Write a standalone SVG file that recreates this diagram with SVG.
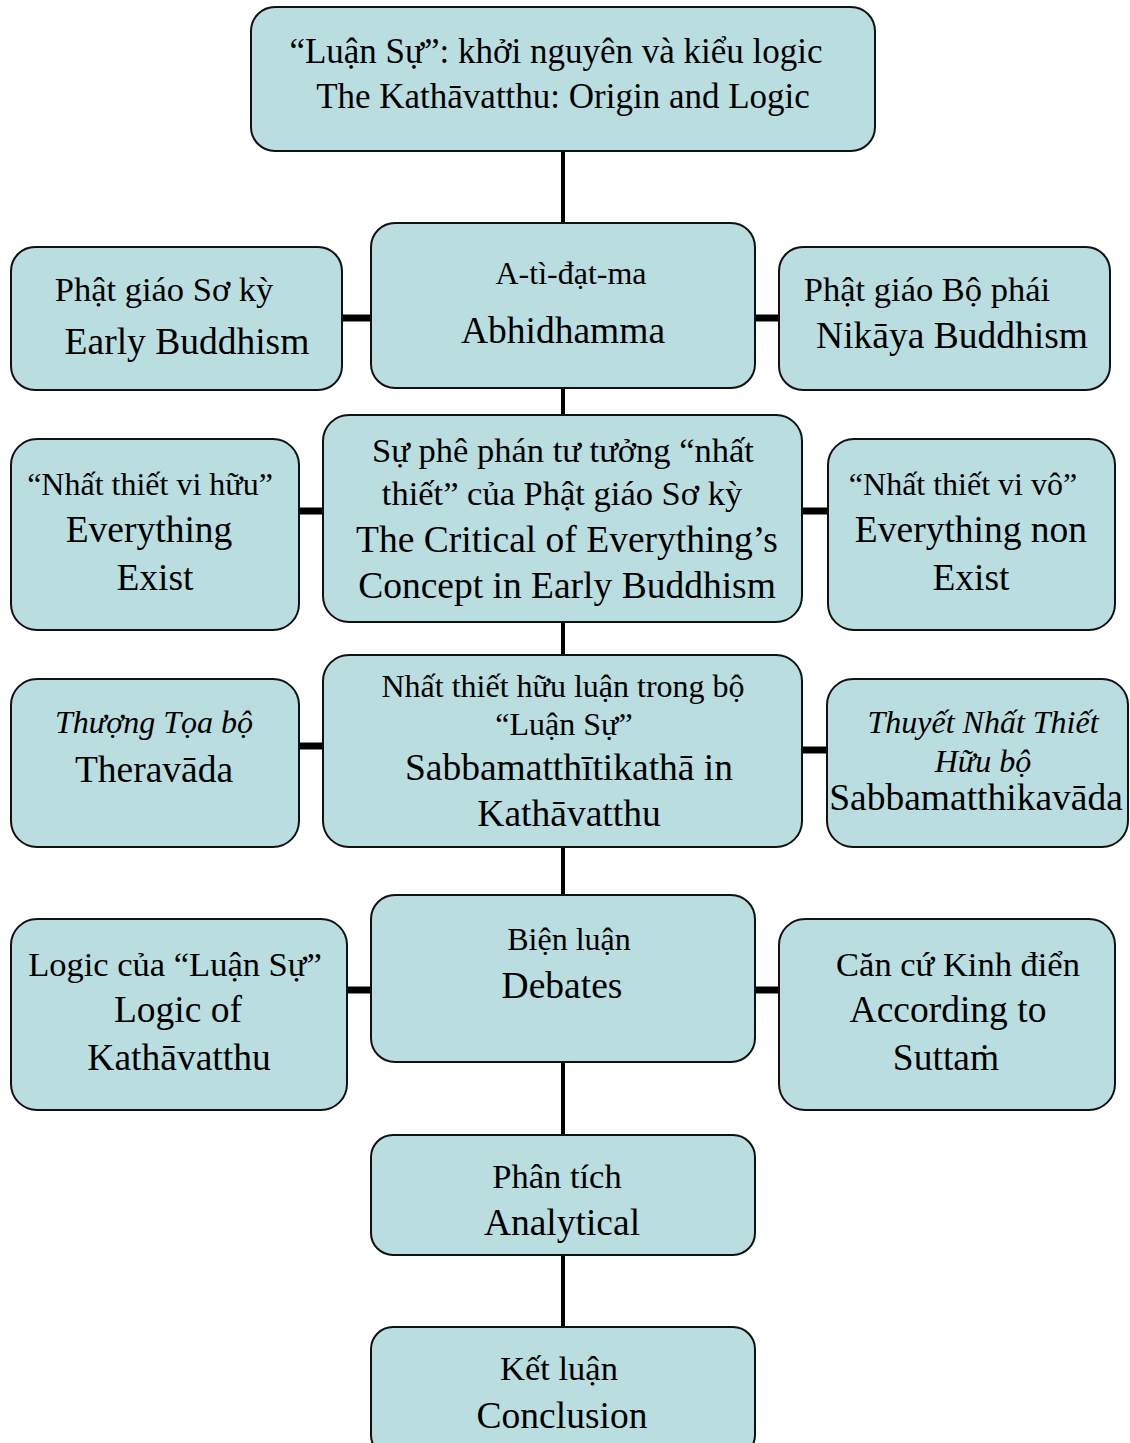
<svg xmlns="http://www.w3.org/2000/svg" width="1130" height="1443" viewBox="0 0 1130 1443">
<style>
.box{fill:#badde0;stroke:#111;stroke-width:2}
.v{stroke:#000;stroke-width:4;fill:none}
.h{stroke:#000;stroke-width:7;fill:none}
text{font-family:"Liberation Serif","Times New Roman",serif;fill:#000;text-anchor:middle}
.s{font-size:32px}
.m{font-size:34.5px}
.l{font-size:37.5px}
.t{font-size:35px}
.i{font-style:italic}
</style>
<rect width="1130" height="1443" fill="#fff"/>
<g id="connectors">
<line class="v" x1="563" y1="151" x2="563" y2="223"/>
<line class="v" x1="563" y1="388" x2="563" y2="415"/>
<line class="v" x1="563" y1="622" x2="563" y2="655"/>
<line class="v" x1="563" y1="847" x2="563" y2="895"/>
<line class="v" x1="563" y1="1062" x2="563" y2="1135"/>
<line class="v" x1="563" y1="1255" x2="563" y2="1327"/>
<line class="h" x1="342" y1="318" x2="371" y2="318"/>
<line class="h" x1="755" y1="318" x2="779" y2="318"/>
<line class="h" x1="299" y1="511" x2="323" y2="511"/>
<line class="h" x1="802" y1="511" x2="828" y2="511"/>
<line class="h" x1="299" y1="746" x2="323" y2="746"/>
<line class="h" x1="802" y1="750" x2="827" y2="750"/>
<line class="h" x1="347" y1="990" x2="371" y2="990"/>
<line class="h" x1="755" y1="990" x2="779" y2="990"/>
</g>
<g id="n-top">
<rect class="box" x="251" y="7" width="624" height="144" rx="24"/>
<text class="t" x="556" y="63">“Luận Sự”: khởi nguyên và kiểu logic</text>
<text class="t" x="563" y="108">The Kathāvatthu: Origin and Logic</text>
</g>
<g id="n-abhidhamma">
<rect class="box" x="371" y="223" width="384" height="165" rx="24"/>
<text class="s" x="571" y="284">A-tì-đạt-ma</text>
<text class="l" x="563" y="343">Abhidhamma</text>
</g>
<g id="n-early">
<rect class="box" x="11" y="247" width="331" height="143" rx="24"/>
<text class="m" x="164" y="301">Phật giáo Sơ kỳ</text>
<text class="l" x="187" y="354">Early Buddhism</text>
</g>
<g id="n-nikaya">
<rect class="box" x="779" y="247" width="331" height="143" rx="24"/>
<text class="m" x="927" y="301">Phật giáo Bộ phái</text>
<text class="l" x="952" y="348">Nikāya Buddhism</text>
</g>
<g id="n-critical">
<rect class="box" x="323" y="415" width="479" height="207" rx="26"/>
<text class="m" x="563" y="462">Sự phê phán tư tưởng “nhất</text>
<text class="m" x="562" y="505">thiết” của Phật giáo Sơ kỳ</text>
<text class="l" x="567" y="552">The Critical of Everything’s</text>
<text class="l" x="567" y="598">Concept in Early Buddhism</text>
</g>
<g id="n-exist">
<rect class="box" x="11" y="439" width="288" height="191" rx="26"/>
<text class="s" x="150" y="495">“Nhất thiết vi hữu”</text>
<text class="l" x="149" y="542">Everything</text>
<text class="l" x="155" y="590">Exist</text>
</g>
<g id="n-nonexist">
<rect class="box" x="828" y="439" width="287" height="191" rx="26"/>
<text class="s" x="963" y="495">“Nhất thiết vi vô”</text>
<text class="l" x="971" y="542">Everything non</text>
<text class="l" x="971" y="590">Exist</text>
</g>
<g id="n-sabba">
<rect class="box" x="323" y="655" width="479" height="192" rx="26"/>
<text class="s" x="563" y="697">Nhất thiết hữu luận trong bộ</text>
<text class="s" x="564" y="735">“Luận Sự”</text>
<text class="l" x="569" y="780">Sabbamatthītikathā in</text>
<text class="l" x="569" y="826">Kathāvatthu</text>
</g>
<g id="n-thera">
<rect class="box" x="11" y="679" width="288" height="168" rx="26"/>
<text class="s i" x="154" y="733">Thượng Tọa bộ</text>
<text class="l" x="154" y="782">Theravāda</text>
</g>
<g id="n-sarva">
<rect class="box" x="827" y="679" width="301" height="168" rx="26"/>
<text class="s i" x="983" y="733">Thuyết Nhất Thiết</text>
<text class="s i" x="983" y="772">Hữu bộ</text>
<text class="l" x="976" y="810">Sabbamatthikavāda</text>
</g>
<g id="n-debates">
<rect class="box" x="371" y="895" width="384" height="167" rx="24"/>
<text class="s" x="569" y="950">Biện luận</text>
<text class="l" x="562" y="998">Debates</text>
</g>
<g id="n-logic">
<rect class="box" x="11" y="919" width="336" height="191" rx="26"/>
<text class="m" x="175" y="976">Logic của “Luận Sự”</text>
<text class="l" x="178" y="1022">Logic of</text>
<text class="l" x="179" y="1070">Kathāvatthu</text>
</g>
<g id="n-sutta">
<rect class="box" x="779" y="919" width="336" height="191" rx="26"/>
<text class="m" x="958" y="976">Căn cứ Kinh điển</text>
<text class="l" x="948" y="1022">According to</text>
<text class="l" x="946" y="1070">Suttaṁ</text>
</g>
<g id="n-analytical">
<rect class="box" x="371" y="1135" width="384" height="120" rx="22"/>
<text class="m" x="557" y="1188">Phân tích</text>
<text class="l" x="562" y="1235">Analytical</text>
</g>
<g id="n-conclusion">
<rect class="box" x="371" y="1327" width="384" height="130" rx="22"/>
<text class="m" x="559" y="1380">Kết luận</text>
<text class="l" x="562" y="1428">Conclusion</text>
</g>
</svg>
